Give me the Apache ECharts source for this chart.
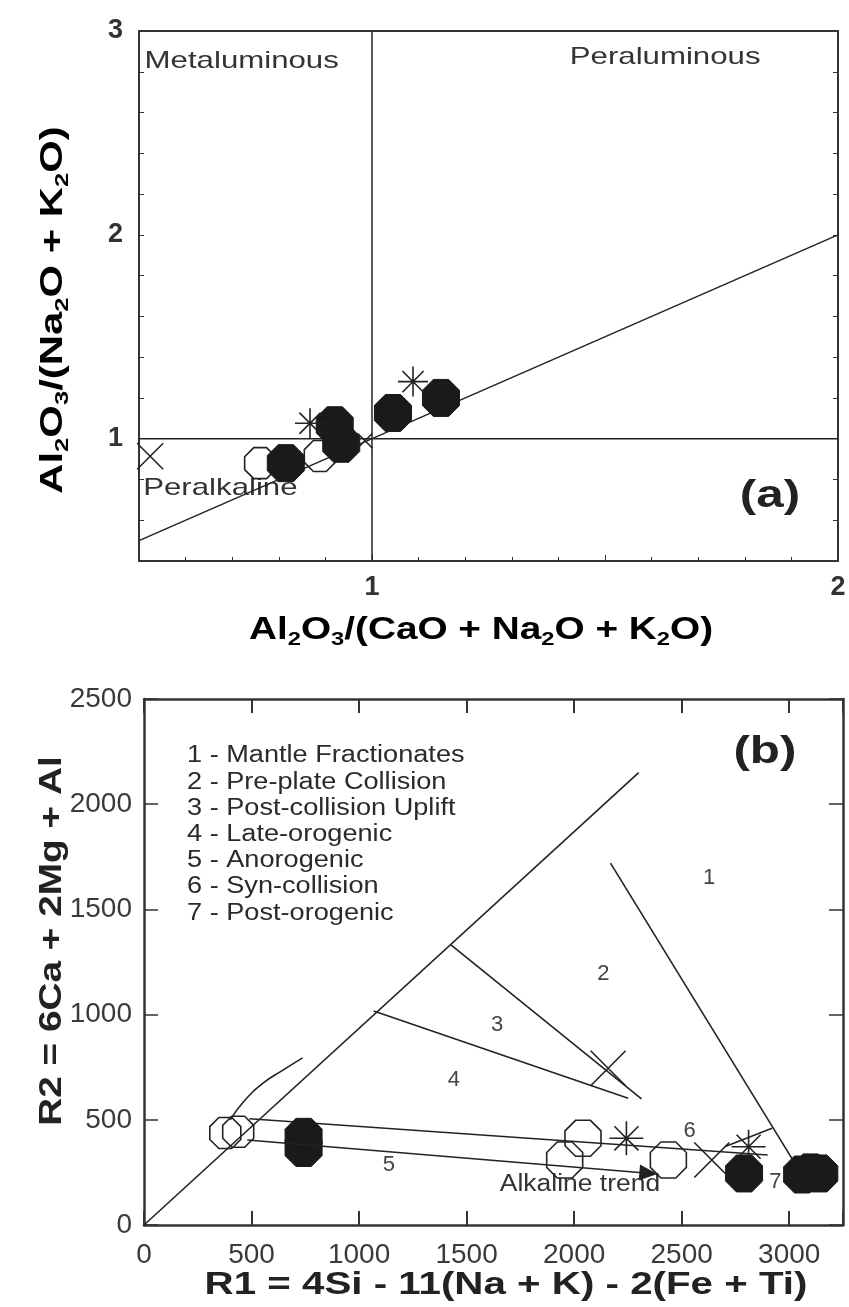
<!DOCTYPE html>
<html><head><meta charset="utf-8">
<script src="https://cdn.jsdelivr.net/npm/echarts@6/dist/echarts.min.js"></script>
<style>html,body{margin:0;padding:0;background:#fff}#c{width:849px;height:1307px}</style>
</head><body><div id="c"></div>
<script>
// ---------- Chart (a) data ----------
const aFilled = [[0.815,0.88],[0.92,1.066],[0.934,0.975],[1.045,1.126],[1.148,1.20]];
const aOpen = [[0.76,0.88],[0.888,0.915]];
const aStar = [[0.867,1.076],[1.088,1.28]];
const aCrossBig = [[0.524,0.914]];
const aCrossSmall = [[0.985,0.99]];
const aLines = [
  [[1,0.4],[1,3]],
  [[0.5,1],[2,1]],
  [[0.5,0.5],[2,2]]
];
const aXTicks = [1,2];
const aYTicks = [1,2,3];
const aTexts = [
  {t:'Metaluminous', p:[0.512,2.85], al:'left'},
  {t:'Peraluminous', p:[1.629,2.87], al:'center'},
  {t:'Peralkaline', p:[0.509,0.755], al:'left'}
];

// ---------- Chart (b) data ----------
const bFilled = [[742,419],[742,366],[2790,245],[3060,240],[3100,250],[3140,245]];
const bOpen = [[378,437],[438,443],[2041,412],[1956,309],[2438,309]];
const bStar = [[2243,412],[2811,372]];
const bCross = [[2158,745],[2640,309]];
const bLines = [
  [[0,0],[2300,2150]],
  [[1068,1017],[2251,602]],
  [[1427,1331],[2313,599]],
  [[2169,1720],[3040,270]],
  [[490,505],[2900,333]],
  [[2700,372],[2920,460]]
];
const bCurve = [[401,500],[462,585],[555,675],[648,737],[737,794]];
const bArrow = [[480,404],[2345,246]];
const bRegionLabels = [
  {t:'1', p:[2627,1650]}, {t:'2', p:[2136,1195]}, {t:'3', p:[1642,950]},
  {t:'4', p:[1441,691]}, {t:'5', p:[1138,285]}, {t:'6', p:[2537,447]}, {t:'7', p:[2935,204]}
];
const bLegend = ['1 - Mantle Fractionates','2 - Pre-plate Collision','3 - Post-collision Uplift',
  '4 - Late-orogenic','5 - Anorogenic','6 - Syn-collision','7 - Post-orogenic'];
const bLegendAnchor = [200, 2229];
const bLegendStep = 124.5;
const bTrendLabel = {t:'Alkaline trend', p:[2027,193]};

// ---------- styles ----------
const INK = '#222';
const OCT = 'path://M29.3,0L70.7,0L100,29.3L100,70.7L70.7,100L29.3,100L0,70.7L0,29.3Z';
const STAR = 'path://M50,0L50,100M0,50L100,50M14.6,14.6L85.4,85.4M85.4,14.6L14.6,85.4';
const CROSS = 'path://M0,0L100,100M100,0L0,100';
const FONT = "'Liberation Sans', Arial, sans-serif";

const chart = echarts.init(document.getElementById('c'), null, {renderer:'canvas'});

function segSeries(segs, xi, yi, w){
  return segs.map(s => ({type:'line', xAxisIndex:xi, yAxisIndex:yi, data:s, symbol:'none', silent:true,
    lineStyle:{color:INK, width:w}, z:2, animation:false}));
}
function sc(data, xi, yi, sym, size, filled, z){
  return {type:'scatter', xAxisIndex:xi, yAxisIndex:yi, data:data, symbol:sym, symbolSize:size,
    itemStyle: filled ? {color:'#1a1a1a', borderColor:'#1a1a1a', borderWidth:1, opacity:1}
                      : {color:'rgba(0,0,0,0)', borderColor:INK, borderWidth:1.6, opacity:1},
    z:z, animation:false, silent:true};
}
const axLine = (w)=>({show:true, onZero:false, lineStyle:{color:'#333', width:w}});
const lblA = {fontFamily:FONT, fontWeight:'bold', fontSize:27, color:'#333'};
const lblB = {fontFamily:FONT, fontSize:28, color:'#3a3a3a'};

const option = {
  backgroundColor:'#fff',
  animation:false,
  grid:[
    {left:139, top:31, width:699, height:530},
    {left:144, top:699, width:699, height:526}
  ],
  xAxis:[
    {gridIndex:0, type:'value', min:0.5, max:2, interval:0.5, position:'bottom',
      axisLine:axLine(2), splitLine:{show:false},
      axisTick:{show:true, inside:true, length:6, lineStyle:{color:'#333'}},
      minorTick:{show:true, splitNumber:5, length:4, lineStyle:{color:'#333'}},
      axisLabel:{...lblA, margin:13, formatter:v=> aXTicks.some(t=>Math.abs(t-v)<1e-6) ? String(Math.round(v)) : ''}},
    {gridIndex:0, type:'value', min:0.5, max:2, interval:0.5, position:'top',
      axisLine:axLine(2), splitLine:{show:false}, axisTick:{show:false}, axisLabel:{show:false}},
    {gridIndex:1, type:'value', min:0, max:3250, interval:500, position:'bottom',
      axisLine:axLine(2.5), splitLine:{show:false},
      axisTick:{show:true, inside:true, length:14, lineStyle:{color:'#333', width:2}},
      axisLabel:{...lblB, margin:16, formatter:v=> v>3000 ? '' : String(v)}},
    {gridIndex:1, type:'value', min:0, max:3250, interval:500, position:'top',
      axisLine:axLine(2.5), splitLine:{show:false},
      axisTick:{show:true, inside:true, length:14, lineStyle:{color:'#333', width:2}}, axisLabel:{show:false}}
  ],
  yAxis:[
    {gridIndex:0, type:'value', min:0.4, max:3, interval:0.2, position:'left',
      axisLine:axLine(2), splitLine:{show:false},
      axisTick:{show:true, inside:true, length:5, lineStyle:{color:'#333'}},
      axisLabel:{...lblA, margin:16, formatter:v=> aYTicks.some(t=>Math.abs(t-v)<1e-6) ? String(Math.round(v)) : ''}},
    {gridIndex:0, type:'value', min:0.4, max:3, interval:0.2, position:'right',
      axisLine:axLine(2), splitLine:{show:false},
      axisTick:{show:true, inside:true, length:5, lineStyle:{color:'#333'}}, axisLabel:{show:false}},
    {gridIndex:1, type:'value', min:0, max:2500, interval:500, position:'left',
      axisLine:axLine(2.5), splitLine:{show:false},
      axisTick:{show:true, inside:true, length:14, lineStyle:{color:'#333', width:1.5}},
      axisLabel:{...lblB, margin:12, formatter:v=>String(v)}},
    {gridIndex:1, type:'value', min:0, max:2500, interval:500, position:'right',
      axisLine:axLine(2.5), splitLine:{show:false},
      axisTick:{show:true, inside:true, length:14, lineStyle:{color:'#333', width:1.5}}, axisLabel:{show:false}}
  ],
  series:[
    ...segSeries(aLines, 0, 0, 1.5),
    sc(aOpen, 0, 0, OCT, 31, false, 3),
    sc(aFilled, 0, 0, OCT, 37, true, 4),
    sc(aStar, 0, 0, STAR, 30, false, 5),
    sc(aCrossBig, 0, 0, CROSS, 26, false, 5),
    sc(aCrossSmall, 0, 0, CROSS, 15, false, 5),
    ...segSeries(bLines, 2, 2, 1.6),
    {type:'line', xAxisIndex:2, yAxisIndex:2, data:bCurve, smooth:true, symbol:'none', silent:true,
      lineStyle:{color:INK, width:1.6}, z:2},
    {type:'line', xAxisIndex:2, yAxisIndex:2, data:[], silent:true,
      markLine:{silent:true, symbol:['none','triangle'], symbolSize:[16,18], label:{show:false},
        lineStyle:{color:INK, width:1.6, type:'solid'}, itemStyle:{color:INK}, animation:false,
        data:[[{coord:bArrow[0]},{coord:bArrow[1]}]]}},
    sc(bOpen.slice(0,2), 2, 2, OCT, 31, false, 3),
    sc(bOpen.slice(2), 2, 2, OCT, 36, false, 3),
    sc(bFilled, 2, 2, OCT, 37, true, 4),
    sc(bStar, 2, 2, STAR, 34, false, 5),
    sc(bCross, 2, 2, CROSS, 35, false, 5)
  ]
};
chart.setOption(option);

// ---------- annotations positioned through the axes ----------
const px = (gi, p) => chart.convertToPixel({gridIndex:gi}, p);
const g = [];
aTexts.forEach(o => {
  const q = px(0, o.p);
  g.push({type:'text', x:q[0], y:q[1], scaleX:1.3, silent:true,
    style:{text:o.t, font:`24px ${FONT}`, fill:'#333', align:o.al, verticalAlign:'middle'}});
});
{ const q = px(0,[1.854,0.716]);
  g.push({type:'text', x:q[0], y:q[1], scaleX:1.3, silent:true,
    style:{text:'(a)', font:`bold 38px ${FONT}`, fill:'#222', align:'center', verticalAlign:'middle'}}); }
{ const q = px(1,[2887,2248]);
  g.push({type:'text', x:q[0], y:q[1], scaleX:1.3, silent:true,
    style:{text:'(b)', font:`bold 38px ${FONT}`, fill:'#222', align:'center', verticalAlign:'middle'}}); }
bRegionLabels.forEach(o => {
  const q = px(1, o.p);
  g.push({type:'text', x:q[0], y:q[1], silent:true,
    style:{text:o.t, font:`22px ${FONT}`, fill:'#444', align:'center', verticalAlign:'middle'}});
});
{ const q = px(1, bTrendLabel.p);
  g.push({type:'text', x:q[0], y:q[1], scaleX:1.15, silent:true,
    style:{text:bTrendLabel.t, font:`23px ${FONT}`, fill:'#333', align:'center', verticalAlign:'middle'}}); }
bLegend.forEach((t,i) => {
  const q = px(1, [bLegendAnchor[0], bLegendAnchor[1] - i*bLegendStep]);
  g.push({type:'text', x:q[0], y:q[1], scaleX:1.18, silent:true,
    style:{text:t, font:`23px ${FONT}`, fill:'#2a2a2a', align:'left', verticalAlign:'middle'}});
});
// axis titles (bold, with subscripts)
const rich = {
  n:{fontFamily:FONT, fontWeight:'bold', fontSize:31, color:'#222', lineHeight:34, verticalAlign:'top'},
  s:{fontFamily:FONT, fontWeight:'bold', fontSize:19, color:'#222', lineHeight:20, verticalAlign:'bottom'}
};
g.push({type:'text', x:481, y:632, scaleX:1.25, silent:true,
  style:{text:'{n|Al}{s|2}{n|O}{s|3}{n|/(CaO + Na}{s|2}{n|O + K}{s|2}{n|O)}', rich, align:'center', verticalAlign:'middle'}});
g.push({type:'text', x:55, y:310, rotation:Math.PI/2, scaleX:1.35, silent:true,
  style:{text:'{n|Al}{s|2}{n|O}{s|3}{n|/(Na}{s|2}{n|O + K}{s|2}{n|O)}', rich, align:'center', verticalAlign:'middle'}});
g.push({type:'text', x:506, y:1285, scaleX:1.3, silent:true,
  style:{text:'R1 = 4Si - 11(Na + K) - 2(Fe + Ti)', font:`bold 31px ${FONT}`, fill:'#222', align:'center', verticalAlign:'middle'}});
g.push({type:'text', x:52, y:941, rotation:Math.PI/2, scaleX:1.25, silent:true,
  style:{text:'R2 = 6Ca + 2Mg + Al', font:`bold 31px ${FONT}`, fill:'#222', align:'center', verticalAlign:'middle'}});
chart.setOption({graphic: g});
</script></body></html>
